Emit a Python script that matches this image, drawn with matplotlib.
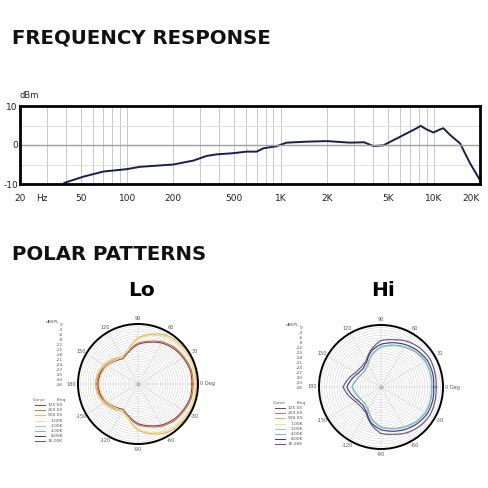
import matplotlib
matplotlib.use("Agg")
import matplotlib.pyplot as plt
import numpy as np

plt.rcParams["axes.unicode_minus"] = False

W = H = 488

# frequency response
freq_hz = [39, 52, 70, 99, 121, 200, 270, 330, 383, 492, 601, 698, 773, 944,
           1097, 1483, 2000, 2838, 3500, 4030, 4680, 6015, 7727, 8200, 8970,
           9930, 10970, 11540, 12740, 14830, 17230, 20000]
level_db = [-9.7, -8.1, -6.8, -6.2, -5.6, -5.0, -4.0, -2.8, -2.4, -2.1, -1.7,
            -1.7, -0.85, -0.3, 0.6, 0.85, 1.0, 0.6, 0.7, -0.26, -0.1, 2.1, 4.3,
            4.9, 4.0, 3.2, 4.0, 4.3, 2.6, 0.4, -4.7, -9.0]
x_ticks = [20, 50, 100, 200, 500, 1000, 2000, 5000, 10000, 20000]
x_labels = ["20", "50", "100", "200", "500", "1K", "2K", "5K", "10K", "20K"]
y_ticks = [-10, 0, 10]

# polar patterns, dBSPL every 15 degrees from 0 to 345
angles_deg = [0, 15, 30, 45, 60, 75, 90, 105, 120, 135, 150, 165, 180,
              195, 210, 225, 240, 255, 270, 285, 300, 315, 330, 345]
lo_125 = [-3.6, -3.6, -4.7, -5.8, -7.6, -10.1, -12.2, -15.8, -18.4, -16.6, -14.4, -12.6, -11.9,
          -12.6, -14.4, -16.6, -18.4, -15.8, -12.2, -10.1, -7.6, -5.8, -4.7, -3.6]
lo_250 = [-2.9, -2.9, -4.0, -5.0, -6.8, -9.4, -11.5, -15.1, -18.0, -15.8, -13.7, -11.9, -11.2,
          -11.9, -13.7, -15.8, -18.0, -15.1, -11.5, -9.4, -6.8, -5.0, -4.0, -2.9]
lo_500 = [-1.1, -0.7, -0.7, -1.1, -2.2, -5.0, -8.3, -14.4, -17.3, -14.8, -12.6, -11.2, -10.4,
          -11.2, -12.6, -14.8, -17.3, -14.4, -8.3, -5.0, -2.2, -1.1, -0.7, -0.7]
lo_1k = [-1.8, -1.8, -1.8, -2.2, -3.2, -5.8, -9.0, -14.8, -17.6, -16.2, -14.4, -13.3, -13.0,
         -13.3, -14.4, -16.2, -17.6, -14.8, -9.0, -5.8, -3.2, -2.2, -1.8, -1.8]
hi_2k = [-6.8, -6.5, -6.5, -7.6, -9.4, -11.2, -13.0, -16.6, -21.2, -23.0, -22.3, -21.2, -19.4,
         -21.2, -22.3, -23.0, -21.2, -16.6, -13.0, -11.2, -9.4, -7.6, -6.5, -6.5]
hi_4k = [-6.5, -6.1, -6.1, -7.2, -9.0, -10.8, -12.6, -16.2, -20.9, -22.7, -22.3, -20.9, -19.1,
         -20.9, -22.3, -22.7, -20.9, -16.2, -12.6, -10.8, -9.0, -7.2, -6.1, -6.1]
hi_8k = [-5.4, -5.0, -5.0, -6.1, -7.6, -9.4, -11.2, -14.4, -19.4, -21.2, -20.5, -18.4, -16.2,
         -18.4, -20.5, -21.2, -19.4, -14.4, -11.2, -9.4, -7.6, -6.1, -5.0, -5.0]
hi_16k = [-4.0, -3.6, -3.2, -4.0, -5.4, -7.6, -9.0, -13.7, -18.7, -19.8, -19.1, -16.6, -14.0,
          -16.6, -19.1, -19.8, -18.7, -13.7, -9.0, -7.6, -5.4, -4.0, -3.2, -3.6]

curve_names = ["125.00", "250.00", "500.00", "1.00K", "2.00K", "4.00K", "8.00K", "16.00K"]
curve_colors = ["#8c3b3b", "#c07850", "#e6b45c", "#f0dc8c",
                "#a8c8a0", "#7fb4d0", "#2e3c78", "#6a4a78"]
db_labels = ["0", "-3", "-6", "-9", "-12", "-15", "-18", "-21", "-24", "-27", "-30", "-33", "-36"]
angle_ticks = [0, 30, 60, 90, 120, 150, 180, 210, 240, 270, 300, 330]
angle_labels = ["0 Deg", "30", "60", "90", "120", "150", "180", "-150", "-120", "-90", "-60", "-30"]


def fx(x):
    return x / W


def fy(y):
    return 1 - y / H


fig = plt.figure(figsize=(W / 100, H / 100), dpi=100)
fig.patch.set_facecolor("white")

# headings
fig.text(fx(12), fy(38), "FREQUENCY RESPONSE", fontsize=14.2, fontweight="bold",
         va="center", ha="left", color="#111111")
fig.text(fx(12), fy(254), "POLAR PATTERNS", fontsize=14.2, fontweight="bold",
         va="center", ha="left", color="#111111")
fig.text(fx(142), fy(291), "Lo", fontsize=14.5, fontweight="bold", va="center", ha="center")
fig.text(fx(383), fy(291), "Hi", fontsize=14.5, fontweight="bold", va="center", ha="center")

# ---- frequency response
ax = fig.add_axes([fx(20), fy(184), 460 / W, 78 / H])
ax.set_xscale("log")
ax.set_xlim(20, 20000)
ax.set_ylim(-10, 10)
ax.plot(freq_hz, level_db, color="#1c1c52", lw=1.4)
ax.set_xticks(x_ticks)
ax.set_xticklabels(x_labels)
ax.set_yticks(y_ticks)
ax.set_yticks([-5, 5], minor=True)
ax.tick_params(axis="both", which="both", length=0, labelsize=6.5, colors="#222222")
ax.tick_params(axis="x", pad=7)
ax.tick_params(axis="y", pad=1.5)
ax.xaxis.get_ticklabels()[-1].set_ha("right")
ax.grid(True, which="both", axis="x", color="#c8c8c8", lw=0.7)
ax.grid(True, which="minor", axis="y", color="#dddddd", lw=0.6)
ax.axhline(0, color="#a0a0a0", lw=1.0)
for s in ax.spines.values():
    s.set_linewidth(2)
    s.set_color("black")
fig.text(fx(36), fy(198), "Hz", fontsize=6.5, va="center", ha="left", color="#222222")
fig.text(fx(20), fy(96), "dBm", fontsize=6, va="center", ha="left", color="#222222")


# ---- polar patterns
def polar_panel(cx, cy, rad, series, colors, legend_x):
    pax = fig.add_axes([fx(cx - rad), fy(cy + rad), 2 * rad / W, 2 * rad / H],
                       projection="polar")
    pax.set_ylim(-36, 0)
    pax.set_rgrids(np.arange(-34.5, 0, 1.5), labels=[])
    pax.set_thetagrids(angle_ticks, [])
    pax.grid(True, color="#cfcfcf", lw=0.35)
    pax.spines["polar"].set_linewidth(1.4)
    pax.spines["polar"].set_color("black")
    th = np.deg2rad(angles_deg + [360])
    for vals, col in zip(series, colors):
        ln, = pax.plot(th, vals + [vals[0]], color=col, lw=0.8)
        ln.get_path()._interpolation_steps = 16
    pax.plot([0], [-36], marker="o", ms=2, mfc="none", mec="#888888", mew=0.4)

    # angle labels just outside the rim
    for ang, lab in zip(angle_ticks, angle_labels):
        if ang == 0:
            r_px, ha = rad + 2, "left"
        elif ang == 180:
            r_px, ha = rad + 1.5, "right"
        else:
            r_px, ha = rad + 5.5, "center"
        pax.text(np.deg2rad(ang), -36 + 36 * r_px / rad, lab, fontsize=3.6,
                 ha=ha, va="center", color="#555555")

    # dBSPL scale list
    fig.text(fx(legend_x - 17), fy(cy - 62), "dBSPL", fontsize=3.2, ha="left",
             va="center", color="#555555")
    for i, lab in enumerate(db_labels):
        fig.text(fx(legend_x), fy(cy - 59 + i * 5.0), lab, fontsize=3.2, ha="right",
                 va="center", color="#555555")
    # curve legend
    fig.text(fx(legend_x - 30), fy(cy + 16), "Curve", fontsize=3.2, ha="left",
             va="center", color="#555555")
    fig.text(fx(legend_x - 6), fy(cy + 16), "Freq", fontsize=3.2, ha="left",
             va="center", color="#555555")
    for i, (name, col) in enumerate(zip(curve_names, curve_colors)):
        y = cy + 21 + i * 5.2
        fig.lines.append(plt.Line2D([fx(legend_x - 28), fx(legend_x - 18)], [fy(y), fy(y)],
                                    transform=fig.transFigure, color=col, lw=0.7))
        fig.text(fx(legend_x), fy(y), name, fontsize=3.2, ha="right", va="center",
                 color="#555555")
    return pax


polar_panel(138, 384, 60, [lo_125, lo_250, lo_500, lo_1k], curve_colors[:4], 63)
polar_panel(381, 387, 62, [hi_2k, hi_4k, hi_8k, hi_16k], curve_colors[4:], 303)

fig.savefig("out.png", dpi=100, facecolor="white")
